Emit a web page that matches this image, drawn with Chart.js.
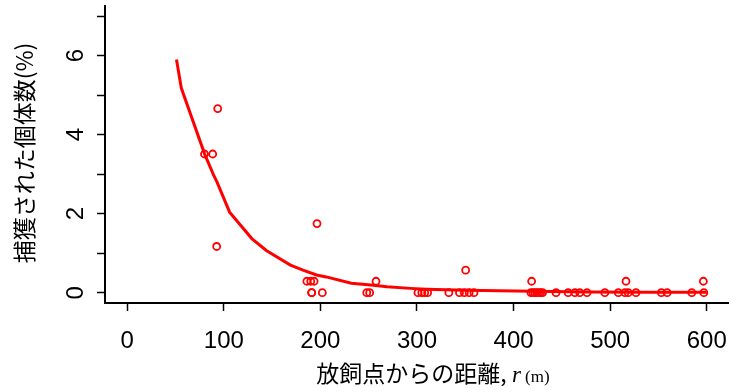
<!DOCTYPE html>
<html>
<head>
<meta charset="utf-8">
<script src="https://cdn.jsdelivr.net/npm/chart.js@4"></script>
<style>
  html, body { margin: 0; padding: 0; background: #fff; }
</style>
</head>
<body>
<canvas id="chart" width="736" height="392"></canvas>
<script>
// observed points: distance from release point (m) and % caught
const distR = [80, 88.5, 93.7, 92.6, 196.5,
  186, 190, 193.5, 191, 191, 202,
  248, 251, 257.6,
  301, 305, 308, 311,
  333, 344, 349, 354, 359, 350.4,
  418.7, 418, 420, 422, 424, 426, 428, 430,
  444, 456.5, 463.5, 468.5, 476, 494.5, 508.5,
  515.3, 518.7, 526.7, 516.4,
  553, 559, 584.5, 597, 596.5];
const catchPct = [3.51, 3.51, 4.66, 1.17, 1.75,
  0.29, 0.29, 0.29, 0, 0, 0,
  0, 0, 0.29,
  0, 0, 0, 0,
  0, 0, 0, 0, 0, 0.57,
  0.29, 0, 0, 0, 0, 0, 0, 0,
  0, 0, 0, 0, 0, 0, 0,
  0, 0, 0, 0.29,
  0, 0, 0, 0, 0.29];

// fitted curve
const fitR   = [51, 56, 80, 89, 93, 106, 129, 144, 169, 182, 196, 206, 232, 255, 269, 293, 310, 350, 420, 480, 540, 600];
const fitPct = [5.9, 5.18, 3.52, 3.0, 2.8, 2.04, 1.37, 1.07, 0.70, 0.57, 0.45, 0.40, 0.24, 0.19, 0.15, 0.11, 0.09, 0.06, 0.04, 0.02, 0.01, 0.01];

const xTicks = [0, 100, 200, 300, 400, 500, 600];
const yTicks = [0, 1, 2, 3, 4, 5, 6, 7];
const yLabels = [0, 2, 4, 6];

const red = '#ff0000';

const rLabels = {
  id: 'rLabels',
  afterDraw(chart) {
    const ctx = chart.ctx;
    const ys = chart.scales.y;
    ctx.save();
    ctx.fillStyle = '#000';

    // y tick labels, rotated like R
    const fs = 24;
    ctx.font = fs + 'px "Liberation Sans", Arial, sans-serif';
    ctx.textAlign = 'center';
    ctx.textBaseline = 'alphabetic';
    yLabels.forEach(v => {
      ctx.save();
      ctx.translate(74, ys.getPixelForValue(v));
      ctx.rotate(-Math.PI / 2);
      ctx.fillText(String(v), 0, fs * 0.358);
      ctx.restore();
    });

    // y title
    ctx.save();
    ctx.translate(24, 153);
    ctx.rotate(-Math.PI / 2);
    ctx.font = '23px "Noto Sans CJK JP", sans-serif';
    ctx.textBaseline = 'middle';
    ctx.fillText('捕獲された個体数(%)', 0, 0);
    ctx.restore();

    // x title with italic r
    const p1 = '放飼点からの距離, ';
    const p2 = 'r';
    const p3 = ' (m)';
    const f1 = '23px "Noto Sans CJK JP", sans-serif';
    const f2 = 'italic 23px "Liberation Serif", serif';
    const f3 = '17px "Liberation Serif", serif';
    ctx.font = f1; const w1 = ctx.measureText(p1).width;
    ctx.font = f2; const w2 = ctx.measureText(p2).width;
    ctx.font = f3; const w3 = ctx.measureText(p3).width;
    let x0 = 433 - (w1 + w2 + w3) / 2;
    const by = 382;
    ctx.textAlign = 'left';
    ctx.textBaseline = 'alphabetic';
    ctx.font = f1; ctx.fillText(p1, x0, by); x0 += w1;
    ctx.font = f2; ctx.fillText(p2, x0, by); x0 += w2;
    ctx.font = f3; ctx.fillText(p3, x0, by);
    ctx.restore();
  }
};

new Chart(document.getElementById('chart'), {
  type: 'scatter',
  data: {
    datasets: [{
      type: 'line',
      data: fitR.map((r, i) => ({ x: r, y: fitPct[i] })),
      borderColor: red,
      borderWidth: 3,
      pointRadius: 0,
      fill: false,
      tension: 0,
      order: 0
    }, {
      data: distR.map((r, i) => ({ x: r, y: catchPct[i] })),
      borderColor: red,
      backgroundColor: 'rgba(0,0,0,0)',
      borderWidth: 1.8,
      pointRadius: 3.5,
      pointStyle: 'circle',
      order: 1
    }]
  },
  options: {
    responsive: false,
    animation: false,
    layout: { padding: { top: 4, right: 8, left: 0, bottom: 0 } },
    plugins: { legend: { display: false }, tooltip: { enabled: false } },
    scales: {
      x: {
        type: 'linear',
        min: -23,
        max: 622,
        afterBuildTicks: s => { s.ticks = xTicks.map(v => ({ value: v })); },
        afterFit: s => { s.height = 89; s.paddingLeft = 0; s.paddingRight = 0; },
        grid: { drawOnChartArea: false, tickLength: 8, tickWidth: 1.5, tickColor: '#000' },
        border: { display: true, color: '#000', width: 2 },
        ticks: {
          color: '#000',
          padding: 16,
          maxRotation: 0,
          font: { family: '"Liberation Sans", Arial, sans-serif', size: 24 }
        }
      },
      y: {
        min: -0.26,
        max: 7.26,
        afterBuildTicks: s => { s.ticks = yTicks.map(v => ({ value: v })); },
        afterFit: s => { s.width = 105; s.paddingTop = 0; s.paddingBottom = 0; },
        grid: { drawOnChartArea: false, tickLength: 8, tickWidth: 1.5, tickColor: '#000' },
        border: { display: true, color: '#000', width: 2 },
        ticks: { display: false }
      }
    }
  },
  plugins: [rLabels]
});
</script>
</body>
</html>
